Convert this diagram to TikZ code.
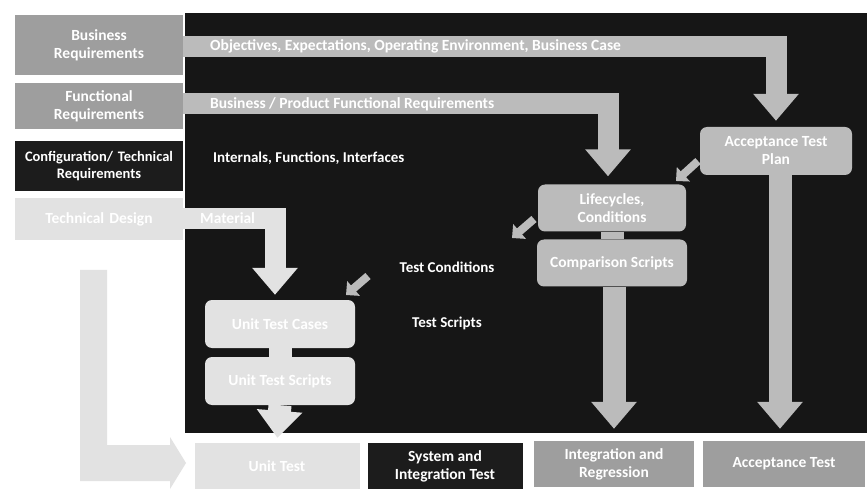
\documentclass[tikz,border=0pt]{standalone}
\usepackage{fontspec}
\setmainfont{Carlito}
\usetikzlibrary{arrows.meta}
\definecolor{panel}{HTML}{161616}
\definecolor{midgray}{HTML}{9E9E9E}
\definecolor{lightgray}{HTML}{BBBBBB}
\definecolor{palegray}{HTML}{E2E2E2}
\definecolor{darkbox}{HTML}{1C1C1C}
\tikzset{
  reqbox/.style={minimum width=168pt, text width=164pt, align=center, inner sep=0pt,
    font=\bfseries\fontsize{15.5}{18}\selectfont, text=white},
  roundbox/.style={rounded corners=7pt, fill=lightgray, align=center, inner sep=0pt,
    font=\bfseries\fontsize{15.5}{18}\selectfont, text=white},
  testbox/.style={minimum height=46pt, align=center, inner sep=0pt,
    font=\bfseries\fontsize{15.5}{18}\selectfont, text=white},
  band/.style={draw=lightgray, line width=21pt, line join=miter},
  stem/.style={draw=lightgray, line width=23pt},
  blockhead/.style={-{Triangle[width=44pt,length=27pt]}},
  smallarrow/.style={draw=lightgray, line width=8pt, -{Triangle[width=19pt,length=10pt]}},
  bandlabel/.style={font=\bfseries\fontsize{15.5}{17}\selectfont, text=white, inner sep=0pt},
  darklabel/.style={font=\bfseries\fontsize{15}{17}\selectfont, text=white, inner sep=0pt}
}
\begin{document}
\begin{tikzpicture}[x=1pt,y=-1pt]
\useasboundingbox (0,0) rectangle (867,494);
\fill[white] (0,0) rectangle (867,494);

% dark working area
\fill[panel] (185,13) rectangle (867,433);

% requirement levels on the left
\node[reqbox, fill=midgray, minimum height=60pt] (biz) at (99,45) {Business\\Requirements};
\node[reqbox, fill=midgray, minimum height=46pt] (func) at (99,106) {Functional\\Requirements};
\node[reqbox, fill=darkbox, minimum height=50pt, font=\bfseries\fontsize{14.5}{17}\selectfont] (cfg) at (99,166) {Configuration/ Technical\\Requirements};
\node[reqbox, fill=palegray, minimum height=42pt] (tech) at (99,219) {Technical Design};

% return arrow on the far left
\fill[palegray] (80,270) -- (107,270) -- (107,445) -- (170,445) -- (170,437)
  -- (186,463) -- (170,489) -- (170,481) -- (80,481) -- cycle;

% test planning boxes
\node[roundbox, minimum width=152pt, minimum height=48pt] (atp) at (776,151) {Acceptance Test\\Plan};
\node[roundbox, minimum width=148pt, minimum height=47pt] (life) at (612,208) {Lifecycles,\\Conditions};
\node[roundbox, minimum width=150pt, minimum height=47pt] (comp) at (612,263) {Comparison Scripts};
\node[roundbox, fill=palegray, minimum width=150pt, minimum height=48pt] (ucase) at (280,324) {Unit Test Cases};
\node[roundbox, fill=palegray, minimum width=150pt, minimum height=48pt] (uscript) at (280,381) {Unit Test Scripts};

% test execution levels along the bottom
\node[testbox, fill=palegray, minimum width=165pt] (unit) at (277,466) {Unit Test};
\node[testbox, fill=darkbox, minimum width=155pt] (sit) at (445,466) {System and\\Integration Test};
\node[testbox, fill=midgray, minimum width=160pt] (intreg) at (614,464) {Integration and\\Regression};
\node[testbox, fill=midgray, minimum width=162pt] (acc) at (784,464) {Acceptance Test};

% flows from the requirements into the plans
\draw[band, blockhead, shorten >=6pt] (biz.east |- 0,47) -| (atp.north);
\draw[band, blockhead, shorten >=8pt] (func.east |- 0,104) -| ([xshift=-4pt]life.north);
\draw[band, draw=palegray, blockhead, shorten >=5pt] (tech.east) -| ([xshift=-5pt]ucase.north);

% flows from the plans into the test levels
\draw[stem] (life.south) -- (comp.north);
\draw[stem, blockhead, shorten >=12pt] ([xshift=2pt]comp.south) -- (intreg.north);
\draw[stem, blockhead, shorten >=12pt] ([xshift=4pt]atp.south) -- ([xshift=-4pt]acc.north);
\draw[stem, draw=palegray] (ucase.south) -- (uscript.north);
\draw[stem, draw=palegray, blockhead, shorten >=5pt] (uscript.south) -- (unit.north);

% small pointers between the planning stages
\coordinate (p1s) at (698,161);
\coordinate (p1e) at (676,181);
\coordinate (p2s) at (534,219);
\coordinate (p2e) at (512,238);
\coordinate (p3s) at (368,276);
\coordinate (p3e) at (346,295);
\draw[smallarrow] (p1s) -- (p1e);
\draw[smallarrow] (p2s) -- (p2e);
\draw[smallarrow] (p3s) -- (p3e);

% labels
\node[bandlabel, anchor=west] (lbiz) at (210,46) {Objectives, Expectations, Operating Environment, Business Case};
\node[bandlabel, anchor=west] (lfunc) at (210,104) {Business / Product Functional Requirements};
\node[bandlabel, anchor=west] (ltech) at (200,218) {Material};
\node[darklabel, anchor=west] (lint) at (213,158) {Internals, Functions, Interfaces};
\node[darklabel] (lcond) at (447,267) {Test Conditions};
\node[darklabel] (lscr) at (447,323) {Test Scripts};
\end{tikzpicture}
\end{document}
